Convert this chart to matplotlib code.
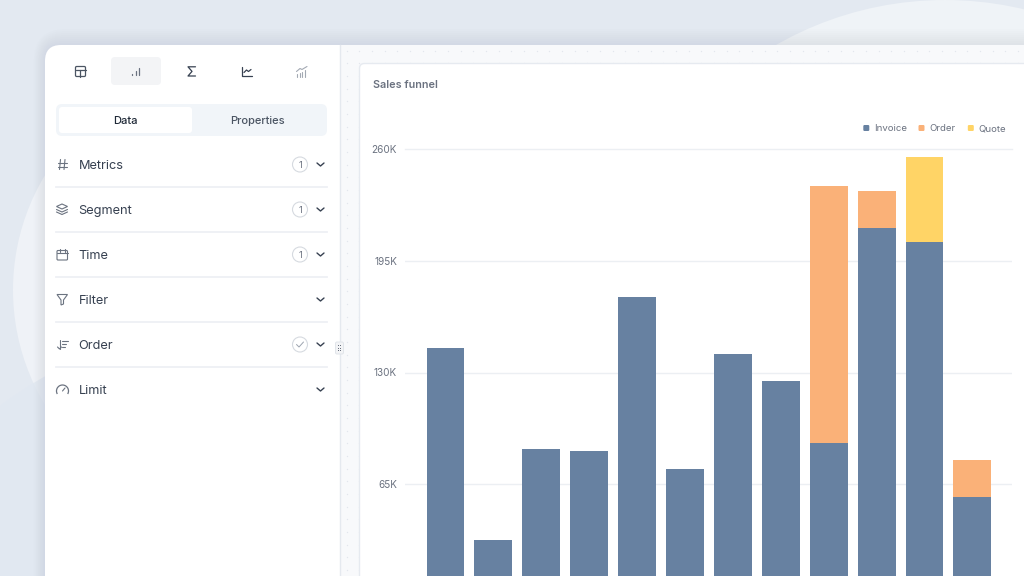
import numpy as np
import matplotlib
matplotlib.use("Agg")
import matplotlib.pyplot as plt
from matplotlib.patches import Circle, FancyBboxPatch, Rectangle, Arc, Polygon

# ---------------------------------------------
# 1. DATA
# ---------------------------------------------

# values in thousands
invoice = [144.3, 32.4, 85.4, 84.2, 174.3, 73.5, 140.5, 124.8, 88.9, 214.0, 205.8, 57.4]
order = [0, 0, 0, 0, 0, 0, 0, 0, 150.1, 21.8, 0, 21.6]
quote = [0, 0, 0, 0, 0, 0, 0, 0, 0, 0, 49.8, 0]

y_ticks = [65, 130, 195, 260]
y_labels = ["65K", "130K", "195K", "260K"]

series_names = ["Invoice", "Order", "Quote"]
series_colors = ["#6781a1", "#fab178", "#ffd466"]

tabs = ["Data", "Properties"]
sections = ["Metrics", "Segment", "Time", "Filter", "Order", "Limit"]
section_badges = ["1", "1", "1", "", "check", ""]

FONT = "Inter"
INK = "#374151"
GREY = "#6b7280"
ICON = "#4b5563"
SOFT = "#6b7380"

# ---------------------------------------------
# 2. BACKGROUND AND PANELS (pixel coordinates)
# ---------------------------------------------

fig = plt.figure(figsize=(10.24, 5.76), dpi=100)
bg = fig.add_axes([0, 0, 1, 1])
bg.set_xlim(0, 1024)
bg.set_ylim(576, 0)
bg.axis("off")
bg.add_patch(Rectangle((0, 0), 1024, 576, fc="#e3e9f1", ec="none"))
bg.add_patch(Circle((235, 290), 222, fc="#eff2f7", ec="none"))
bg.add_patch(Circle((297, 808), 500, fc="#e1e8f1", ec="none", alpha=0.75))
bg.add_patch(Circle((945, 340), 340, fc="#eff3f7", ec="none"))


def rounded(x, y, w, h, r, **kw):
    p = FancyBboxPatch((x + r, y + r), w - 2 * r, h - 2 * r,
                       boxstyle=f"round,pad={r},rounding_size={r}", **kw)
    bg.add_patch(p)
    return p


# soft shadow around the window, a bit stronger on top than on the left
for grow in range(16, 0, -2):
    rounded(45 - grow * 0.7, 45 - grow, 1100, 700, 16 + grow, fc="#8a97ab", ec="none", alpha=0.016)

rounded(45, 45, 1100, 700, 16, fc="white", ec="none")

# canvas with the dots
bg.add_patch(Rectangle((340, 45), 700, 540, fc="#f8f9fb", ec="none"))
bg.plot([339.5, 339.5], [45, 576], color="#e5e9ef", lw=1)
dx = np.arange(346.5, 1024, 12.67)
dy = np.arange(50.5, 576, 12.67)
gx, gy = np.meshgrid(dx, dy)
bg.scatter(gx.ravel(), gy.ravel(), s=1.0, color="#e3e7ed", linewidths=0)

# chart card
rounded(359.5, 63.5, 800, 700, 5, fc="white", ec="#e6eaf0", lw=1)
bg.text(373, 85.3, "Sales funnel", fontsize=7.8, color=GREY, weight="semibold",
        family=FONT, va="center")

# ---------------------------------------------
# 3. LEFT PANEL
# ---------------------------------------------


def line(xs, ys, c=ICON, lw=1.0):
    bg.plot(xs, ys, color=c, lw=lw, solid_capstyle="round", solid_joinstyle="round")


# chart type buttons
rounded(111, 57, 50, 28, 4, fc="#f3f4f6", ec="none")
bg.add_patch(FancyBboxPatch((75.5, 66.5), 10, 10, boxstyle="round,pad=0,rounding_size=1.2",
                            fc="none", ec=ICON, lw=0.9))
line([75.5, 85.5], [69.5, 69.5], lw=0.9)
line([79.5, 79.5], [69.5, 76.5], lw=0.9)
for x0, y0 in [(132, 74), (135.5, 71), (139, 67.5)]:
    line([x0, x0], [75, y0], c="#6b7280", lw=0.9)
line([195.5, 188, 192, 188, 195.5], [66.8, 66.8, 71.4, 76, 76], c="#374151", lw=0.9)
line([242, 242, 252, 252], [66.5, 76, 76, 76], c="#374151", lw=0.9)
line([244, 246.5, 248.5, 251], [72.5, 70, 71.5, 69.5], c="#374151", lw=0.9)
for x0, y0 in [(297, 74), (299.5, 73), (302, 71.5), (304.5, 70)]:
    line([x0, x0], [76.5, y0], c="#a3a9b3", lw=0.8)
line([296.5, 300, 302, 307], [71.5, 68.5, 69.5, 66.5], c="#a3a9b3", lw=0.8)

# data / properties switch
rounded(56, 104, 271, 32, 6, fc="#f1f5f9", ec="none")
rounded(59, 107, 133, 26, 3, fc="white", ec="none")
bg.text(125.5, 120.8, tabs[0], fontsize=8.0, color="#1f2937", weight="medium", family=FONT,
        ha="center", va="center")
bg.text(257.5, 120.8, tabs[1], fontsize=8.0, color="#4b5563", weight="medium", family=FONT,
        ha="center", va="center")

# rows of the panel
row_y = [164.5, 209.5, 254.5, 299.5, 344.5, 389.5]
for name, badge, y in zip(sections, section_badges, row_y):
    bg.text(78.5, y + 1.3, name, fontsize=9.2, color=INK, family=FONT, va="center")
    line([317, 320.5, 324], [y - 1.5, y + 1.5, y - 1.5], c="#374151", lw=1.0)
    if badge:
        bg.add_patch(Circle((300, y), 7.5, fc="white", ec="#d6dae0", lw=0.8))
        if badge == "check":
            line([296.5, 299, 303.5], [y, y + 2.5, y - 2.5], c="#9ca3af", lw=0.7)
        else:
            bg.text(300, y + 0.6, badge, fontsize=6.8, color=GREY, family=FONT, ha="center", va="center")
    if name != "Limit":
        bg.plot([56, 327], [y + 22.5, y + 22.5], color="#eef0f4", lw=1.3)

# hash icon
y = row_y[0]
line([60.5, 59.5], [y - 5, y + 5], c=SOFT, lw=0.8)
line([65, 64], [y - 5, y + 5], c=SOFT, lw=0.8)
line([58, 67], [y - 2, y - 2], c=SOFT, lw=0.8)
line([57.5, 66.5], [y + 2, y + 2], c=SOFT, lw=0.8)
# layers icon
y = row_y[1]
bg.add_patch(Polygon([(56.5, y - 3), (62, y - 5.5), (67.5, y - 3), (62, y - 0.5)],
                     fc="none", ec=SOFT, lw=0.8))
line([56.5, 62, 67.5], [y, y + 2.5, y], c=SOFT, lw=0.8)
line([56.5, 62, 67.5], [y + 2.5, y + 5, y + 2.5], c=SOFT, lw=0.8)
# calendar icon
y = row_y[2]
bg.add_patch(FancyBboxPatch((57, y - 4), 10.5, 9.5, boxstyle="round,pad=0,rounding_size=1",
                            fc="none", ec=SOFT, lw=0.8))
line([57, 67.5], [y - 1.5, y - 1.5], c=SOFT, lw=0.8)
line([60, 60], [y - 5.5, y - 3], c=SOFT, lw=0.8)
line([64.5, 64.5], [y - 5.5, y - 3], c=SOFT, lw=0.8)
# funnel icon
y = row_y[3]
bg.add_patch(Polygon([(57, y - 5), (67.5, y - 5), (63.5, y + 0.5), (63.5, y + 4.5),
                      (61, y + 5.5), (61, y + 0.5)], fc="none", ec=SOFT, lw=0.8))
# sort icon
y = row_y[4]
line([59.5, 59.5], [y - 4.5, y + 4.5], c=SOFT, lw=0.8)
line([57.5, 59.5, 61.5], [y + 2.5, y + 4.5, y + 2.5], c=SOFT, lw=0.8)
line([62, 67.5], [y - 4, y - 4], c=SOFT, lw=0.8)
line([62, 66], [y - 1, y - 1], c=SOFT, lw=0.8)
line([62, 64.5], [y + 2, y + 2], c=SOFT, lw=0.8)
# gauge icon, cut by the panel edge
y = row_y[5]
bg.add_patch(Arc((62.5, y + 1.5), 12, 12, theta1=150, theta2=390, ec=SOFT, lw=0.9))
line([62.5, 65], [y + 1.5, y - 1.5], c=SOFT, lw=0.8)

# resize handle
rounded(335.5, 342, 8, 12, 1.5, fc="#f3f4f6", ec="#e1e5ea", lw=0.7, zorder=4)
for hy in (345.5, 348, 350.5):
    for hx in (338.4, 340.6):
        bg.add_patch(Rectangle((hx - 0.5, hy - 0.5), 1, 1, fc="#6b7280", ec="none", zorder=5))

# ---------------------------------------------
# 4. THE CHART
# ---------------------------------------------

# axes box goes from the top gridline to the bottom of the picture
left, right, top, bottom = 405, 1012, 149.5, 576
ax = fig.add_axes([left / 1024, 1 - bottom / 576, (right - left) / 1024, (bottom - top) / 576])
ax.patch.set_alpha(0)
px_per_k = 111.5 / 65
ax.set_ylim(260 - (bottom - top) / px_per_k, 260)
ax.set_xlim((left - 445.5) / 47.9, (right - 445.5) / 47.9)

x = np.arange(len(invoice))
invoice_a = np.array(invoice)
order_a = np.array(order)
quote_a = np.array(quote)
ax.bar(x, invoice_a, width=0.79, color=series_colors[0], zorder=2)
ax.bar(x, order_a, width=0.79, bottom=invoice_a, color=series_colors[1], zorder=2)
ax.bar(x, quote_a, width=0.79, bottom=invoice_a + order_a, color=series_colors[2], zorder=2)

ax.set_yticks(y_ticks)
ax.set_yticklabels(y_labels, fontsize=7.2, color="#6b7280", family=FONT)
ax.tick_params(axis="y", length=0, pad=5.8)
ax.set_xticks([])
ax.grid(axis="y", color="#eceff3", lw=1, zorder=0)
ax.set_axisbelow(True)
for s in ax.spines.values():
    s.set_visible(False)
ax.yaxis.get_gridlines()[-1].set_clip_on(False)

# legend drawn by hand to sit where the original has it
legend_x = [863.3, 918.5, 967.8]
for name, color, lx in zip(series_names, series_colors, legend_x):
    bg.add_patch(FancyBboxPatch((lx, 125), 6, 6, boxstyle="round,pad=0,rounding_size=1.2",
                                fc=color, ec="none"))
    bg.text(lx + 11, 128.5, name, fontsize=6.9, color="#6b7280", family=FONT, va="center")

fig.savefig("out.png", dpi=100)
